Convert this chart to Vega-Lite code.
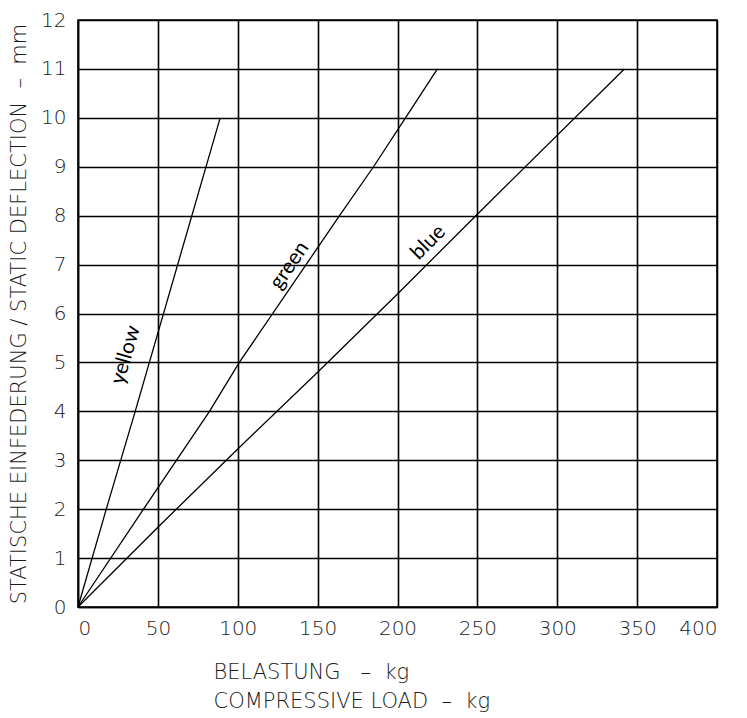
{
  "$schema": "https://vega.github.io/schema/vega-lite/v6.json",
  "width": 639,
  "height": 587,
  "autosize": {"type": "none"},
  "padding": {"left": 78, "top": 20, "right": 30, "bottom": 111},
  "background": "white",
  "config": {
    "view": {"stroke": "black", "strokeWidth": 1.5},
    "font": "DejaVu Sans"
  },
  "datasets": {
    "curves": [
      {"series": "yellow", "load": 0, "defl": 0},
      {"series": "yellow", "load": 17.7, "defl": 2},
      {"series": "yellow", "load": 35.8, "defl": 4},
      {"series": "yellow", "load": 89, "defl": 10},
      {"series": "green", "load": 0, "defl": 0},
      {"series": "green", "load": 41, "defl": 2},
      {"series": "green", "load": 82.3, "defl": 4},
      {"series": "green", "load": 101, "defl": 5},
      {"series": "green", "load": 163.7, "defl": 8},
      {"series": "green", "load": 185, "defl": 9},
      {"series": "green", "load": 205, "defl": 10},
      {"series": "green", "load": 225, "defl": 11},
      {"series": "blue", "load": 0, "defl": 0},
      {"series": "blue", "load": 50, "defl": 1.63},
      {"series": "blue", "load": 100, "defl": 3.23},
      {"series": "blue", "load": 150, "defl": 4.8},
      {"series": "blue", "load": 200, "defl": 6.4},
      {"series": "blue", "load": 250, "defl": 8.03},
      {"series": "blue", "load": 342, "defl": 11}
    ],
    "labels": [
      {"label": "yellow", "load": 30, "defl": 5.15},
      {"label": "green", "load": 132.5, "defl": 6.98},
      {"label": "blue", "load": 219.4, "defl": 7.45}
    ]
  },
  "layer": [
    {
      "data": {"name": "curves"},
      "mark": {"type": "line", "color": "black", "strokeWidth": 1.3},
      "encoding": {
        "x": {
          "field": "load", "type": "quantitative",
          "scale": {"domain": [0, 400], "nice": false},
          "axis": {
            "values": [0, 50, 100, 150, 200, 250, 300, 350, 400],
            "grid": true, "gridColor": "black", "gridWidth": 1.6, "gridOpacity": 1,
            "domain": true, "domainColor": "black", "domainWidth": 1.5,
            "ticks": false, "labelPadding": 11,
            "labelFont": "DejaVu Sans", "labelFontSize": 20, "labelColor": "#1a1a1a",
            "labelFontWeight": 300,
            "title": ["BELASTUNG\u00a0\u00a0\u00a0–\u00a0\u00a0kg", "COMPRESSIVE LOAD\u00a0\u00a0–\u00a0\u00a0kg"],
            "titleFont": "DejaVu Sans", "titleFontSize": 21, "titleFontWeight": 300,
            "titleColor": "#1a1a1a", "titleAlign": "left", "titleBaseline": "top",
            "titleX": 135, "titleY": 54, "titleLineHeight": 29
          }
        },
        "y": {
          "field": "defl", "type": "quantitative",
          "scale": {"domain": [0, 12], "nice": false},
          "axis": {
            "values": [0, 1, 2, 3, 4, 5, 6, 7, 8, 9, 10, 11, 12],
            "grid": true, "gridColor": "black", "gridWidth": 1.6, "gridOpacity": 1,
            "domain": true, "domainColor": "black", "domainWidth": 1.5,
            "ticks": false, "labelPadding": 12,
            "labelFont": "DejaVu Sans", "labelFontSize": 20, "labelColor": "#1a1a1a",
            "labelFontWeight": 300,
            "title": "STATISCHE EINFEDERUNG / STATIC DEFLECTION\u00a0\u00a0–\u00a0\u00a0mm",
            "titleFont": "DejaVu Sans", "titleFontSize": 21, "titleFontWeight": 300,
            "titleColor": "#1a1a1a", "titlePadding": 11
          }
        },
        "detail": {"field": "series"}
      }
    },
    {
      "data": {"name": "labels"},
      "transform": [{"filter": "datum.label == 'yellow'"}],
      "mark": {"type": "text", "angle": -74, "font": "Lato", "fontSize": 21, "color": "black"},
      "encoding": {
        "x": {"field": "load", "type": "quantitative"},
        "y": {"field": "defl", "type": "quantitative"},
        "text": {"field": "label"}
      }
    },
    {
      "data": {"name": "labels"},
      "transform": [{"filter": "datum.label == 'green'"}],
      "mark": {"type": "text", "angle": -56, "font": "Lato", "fontSize": 21, "color": "black"},
      "encoding": {
        "x": {"field": "load", "type": "quantitative"},
        "y": {"field": "defl", "type": "quantitative"},
        "text": {"field": "label"}
      }
    },
    {
      "data": {"name": "labels"},
      "transform": [{"filter": "datum.label == 'blue'"}],
      "mark": {"type": "text", "angle": -45, "font": "Lato", "fontSize": 21, "color": "black"},
      "encoding": {
        "x": {"field": "load", "type": "quantitative"},
        "y": {"field": "defl", "type": "quantitative"},
        "text": {"field": "label"}
      }
    }
  ]
}
